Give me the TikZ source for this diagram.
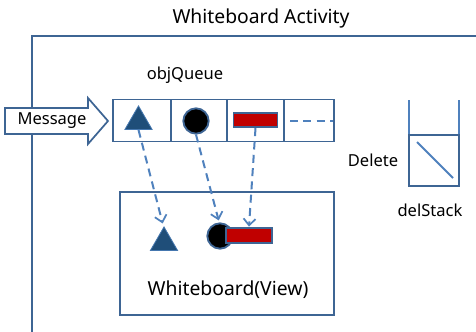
\documentclass[tikz,border=0pt]{standalone}
\usepackage{fontspec}
\setmainfont{Noto Sans}
\usetikzlibrary{arrows.meta,shapes.geometric}
\definecolor{frame}{HTML}{3E6594}
\definecolor{lblue}{HTML}{4F81BD}
\definecolor{tri}{HTML}{1F4E79}
\definecolor{redbar}{HTML}{C00000}
\tikzset{
  lbl/.style={inner sep=0pt, font=\fontsize{12.4}{14}\selectfont},
  big/.style={inner sep=0pt, font=\fontsize{14.5}{17}\selectfont},
  cell/.style={draw=frame, line width=1.3pt, inner sep=0pt, outer sep=0pt, minimum height=31.5pt},
  tria/.style={regular polygon, regular polygon sides=3, fill=tri, draw=lblue!80!tri, line width=0.6pt, inner sep=0pt, minimum size=23.5pt},
  ball/.style={circle, fill=black, draw=frame, line width=1.4pt, inner sep=0pt, minimum size=19pt},
  bar/.style={rectangle, fill=redbar, draw=frame, line width=1.3pt, inner sep=0pt, minimum width=33pt, minimum height=11pt},
  dasharrow/.style={lblue, line width=1.5pt, dash pattern=on 6pt off 4pt, -{Straight Barb[length=5pt,width=9pt,line width=1.3pt]}},
}
\begin{document}
\begin{tikzpicture}[x=0.75pt,y=-0.75pt]
\useasboundingbox (0,0) rectangle (476,332);
\fill[white] (0,0) rectangle (476,332);
% outer frame
\draw[frame, line width=1.7pt] (32,332) -- (32,36) -- (476,36);
\node[big] (title) at (261,18) {Whiteboard Activity};
% message arrow
\draw[frame, fill=white, line width=1.3pt] (5,108) -- (88,108) -- (88,98) -- (108,121) -- (88,144) -- (88,134) -- (5,134) -- cycle;
\node[lbl] (msg) at (52,121) {Message};
% queue
\node[lbl] (oq) at (185,75) {objQueue};
\node[cell, minimum width=43.5pt] (c1) at (142,120.5) {};
\node[cell, minimum width=42pt] (c2) at (199,120.5) {};
\node[cell, minimum width=42.75pt] (c3) at (255.5,120.5) {};
\node[cell, minimum width=37.5pt] (c4) at (309,120.5) {};
\draw[lblue, line width=1.5pt, dash pattern=on 6pt off 4pt] ([xshift=4.5pt]c4.west) -- ([xshift=-1pt]c4.east);
\node[tria] (t1) at (138.5,121.6) {};
\node[ball] (b1) at (196,121) {};
\node[bar] (r1) at (255.5,120) {};
% view
\node[cell, minimum width=160.5pt, minimum height=92.25pt] (view) at (227,253.5) {};
\node[big] (vt) at (228,290) {Whiteboard(View)};
\node[tria] (t2) at (164,242.6) {};
\node[ball] (b2) at (220,236) {};
\node[bar, minimum width=34.5pt] (r2) at (249,235.5) {};
% connectors
\draw[dasharrow] (t1.south) -- ([xshift=-1pt,yshift=2pt]t2.north);
\draw[dasharrow] (b1.south) -- ([xshift=-1pt,yshift=1.5pt]b2.north);
\draw[dasharrow] (r1.south) -- ([xshift=0pt,yshift=0.5pt]r2.north);
% delStack
\draw[lblue, line width=1.5pt] (409,100) -- (409,135);
\draw[lblue, line width=1.5pt] (459,100) -- (459,135);
\node[cell, minimum width=37.5pt, minimum height=38.25pt] (ds) at (434,160.5) {};
\draw[lblue, line width=1.5pt] (417,142) -- (453,178);
\node[lbl] (del) at (373,160) {Delete};
\node[lbl] (dst) at (430,210) {delStack};
\end{tikzpicture}
\end{document}
